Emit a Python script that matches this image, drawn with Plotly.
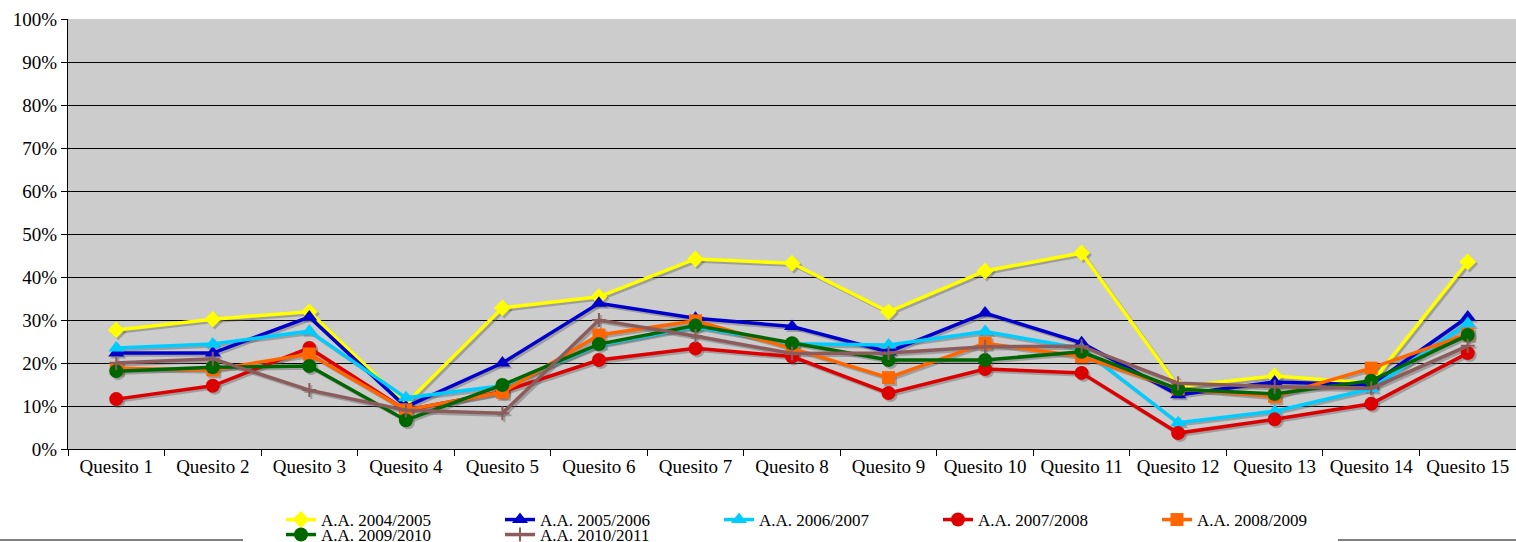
import plotly.graph_objects as go

categories = [f"Quesito {i}" for i in range(1, 16)]

s_2004 = [27.7, 30.2, 31.9, 10.5, 32.8, 35.4, 44.2, 43.2, 31.9, 41.4, 45.6, 14.5, 17.0, 15.3, 43.5]
s_2005 = [22.3, 22.3, 30.7, 9.8, 20.0, 33.9, 30.4, 28.5, 22.6, 31.6, 24.7, 12.6, 15.6, 14.9, 30.7]
s_2006 = [23.5, 24.4, 27.4, 11.9, 14.7, 24.2, 28.4, 24.5, 24.2, 27.3, 23.4, 6.1, 8.8, 14.0, 29.2]
s_2007 = [11.6, 14.7, 23.5, 9.0, 13.3, 20.7, 23.4, 21.5, 13.0, 18.6, 17.7, 3.7, 6.9, 10.5, 22.3]
s_2008 = [18.8, 18.4, 22.1, 9.1, 13.2, 26.5, 29.8, 23.4, 16.6, 24.6, 21.5, 14.0, 12.2, 18.8, 26.7]
s_2009 = [18.1, 19.0, 19.3, 6.7, 14.9, 24.4, 28.7, 24.6, 20.7, 20.7, 22.6, 13.9, 12.8, 15.9, 26.5]
s_2010 = [20.0, 21.0, 13.7, 9.0, 8.3, 30.0, 26.3, 22.2, 22.3, 23.8, 23.9, 15.3, 14.5, 14.1, 24.0]

series = [
    ("A.A. 2004/2005", s_2004, "#FFFF00", "diamond", 13, "legend"),
    ("A.A. 2005/2006", s_2005, "#0000CC", "triangle-up", 14, "legend"),
    ("A.A. 2006/2007", s_2006, "#00CCFF", "triangle-up", 14, "legend"),
    ("A.A. 2007/2008", s_2007, "#DD0000", "circle", 14, "legend"),
    ("A.A. 2008/2009", s_2008, "#FF6600", "square", 13, "legend"),
    ("A.A. 2009/2010", s_2009, "#006600", "circle", 14, "legend2"),
    ("A.A. 2010/2011", s_2010, "#8C5C5C", "cross-thin", 10, "legend2"),
]

SHADOW = "rgba(90,90,90,0.4)"
fig = go.Figure()
# empty trace so the visible base axes are drawn
fig.add_trace(go.Scatter(x=categories, y=[None] * len(categories), mode="lines",
                         showlegend=False, hoverinfo="skip"))
# drop shadows (drawn first, on a slightly shifted overlay axis pair)
for name, vals, color, sym, size, leg in series:
    marker = dict(symbol=sym, size=size, color=SHADOW)
    if sym == "cross-thin":
        marker["line"] = dict(color=SHADOW, width=2)
    fig.add_trace(go.Scatter(
        x=categories, y=[v / 100 for v in vals], mode="lines+markers",
        line=dict(color=SHADOW, width=3.5), marker=marker, showlegend=False,
        hoverinfo="skip", xaxis="x2", yaxis="y2",
    ))
for name, vals, color, sym, size, leg in series:
    marker = dict(symbol=sym, size=size, color=color)
    if sym == "cross-thin":
        marker["line"] = dict(color=color, width=2)
    fig.add_trace(go.Scatter(
        x=categories, y=[v / 100 for v in vals], name=name, mode="lines+markers",
        line=dict(color=color, width=3.5), marker=marker, legend=leg,
        xaxis="x3", yaxis="y3",
    ))

font_family = "Liberation Serif, DejaVu Serif, serif"
leg_common = dict(orientation="h", xref="container", yref="container",
                  xanchor="left", yanchor="top", entrywidth=174,
                  font=dict(size=17), bgcolor="rgba(0,0,0,0)",
                  tracegroupgap=0, itemsizing="trace")
dx = 2 / 96.5
dy = 2 / 430
hidden_x = dict(type="category", overlaying="x", visible=False, showgrid=False)
hidden_y = dict(overlaying="y", visible=False, showgrid=False, zeroline=False)
fig.update_layout(
    width=1516, height=542,
    margin=dict(l=68, r=0, t=19, b=93),
    paper_bgcolor="white", plot_bgcolor="#CCCCCC",
    font=dict(family=font_family, size=18, color="black"),
    legend=dict(leg_common, x=281 / 1516, y=1 - 502 / 542),
    legend2=dict(leg_common, x=281 / 1516, y=1 - 517 / 542),
    xaxis=dict(type="category", categoryarray=categories, tickson="boundaries",
               ticks="outside", ticklen=6, tickcolor="black", showline=True,
               linecolor="black", linewidth=1, showgrid=False,
               tickfont=dict(size=19), range=[-0.5, 14.5]),
    yaxis=dict(range=[0, 1], tickvals=[i / 10 for i in range(11)], tickformat=".0%",
               ticks="outside", ticklen=6, tickcolor="black", showline=True,
               linecolor="black", linewidth=1, gridcolor="black", gridwidth=1,
               zeroline=False, tickfont=dict(size=19)),
    xaxis2=dict(hidden_x, categoryarray=categories, range=[-0.5 - dx, 14.5 - dx]),
    yaxis2=dict(hidden_y, range=[dy, 1 + dy]),
    xaxis3=dict(hidden_x, categoryarray=categories, range=[-0.5, 14.5]),
    yaxis3=dict(hidden_y, range=[0, 1]),
    shapes=[
        dict(type="line", xref="paper", yref="paper", x0=-68 / 1448, x1=175 / 1448,
             y0=-91 / 430, y1=-91 / 430, line=dict(color="black", width=1)),
        dict(type="line", xref="paper", yref="paper", x0=1270 / 1448, x1=1.0,
             y0=-91 / 430, y1=-91 / 430, line=dict(color="black", width=1)),
    ],
)

fig.write_html(
    "out.html",
    config={"displayModeBar": False},
    post_script="document.body.style.margin='0';document.body.style.overflow='hidden';",
)
